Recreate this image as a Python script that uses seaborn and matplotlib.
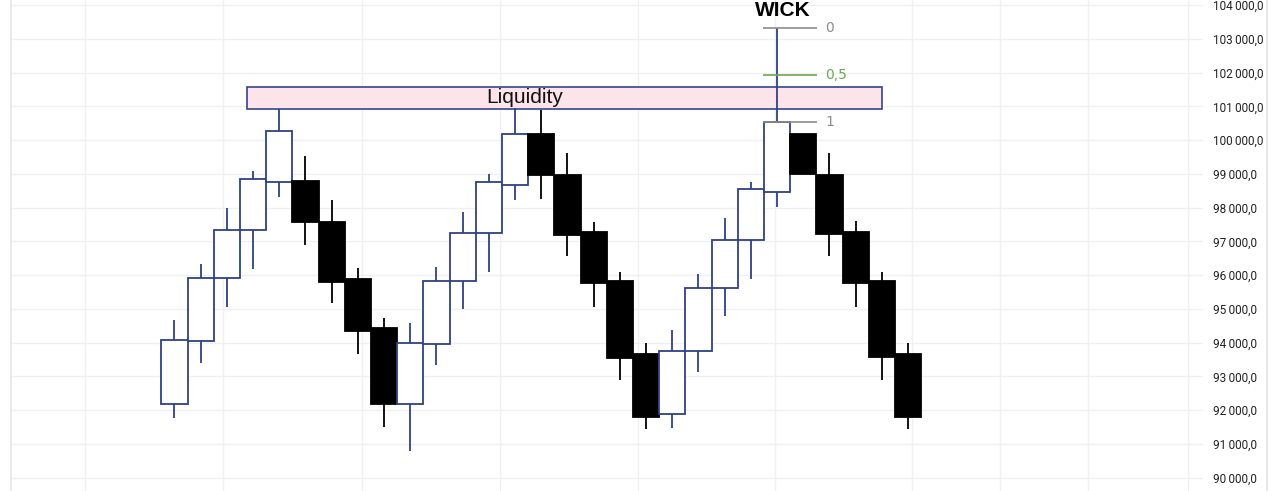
import numpy as np
import pandas as pd
import seaborn as sns
import matplotlib
matplotlib.use("Agg")
import matplotlib.pyplot as plt
from matplotlib.patches import Rectangle
from matplotlib.ticker import FuncFormatter

# %% data
opens = [92180, 94050, 95920, 97340, 98760, 98790, 97590, 95890, 94440, 92180,
         93960, 95830, 97250, 98670, 100180, 98970, 97280, 95830, 93670, 91890,
         93750, 95620, 97040, 98470, 100180, 98970, 97280, 95830, 93670]
closes = [94080, 95910, 97340, 98850, 100270, 97590, 95810, 94360, 92180, 93990,
          95830, 97250, 98760, 100180, 98970, 97190, 95770, 93550, 91800, 93750,
          95620, 97040, 98550, 100540, 99000, 97220, 95770, 93580, 91800]
highs = [94670, 96330, 97990, 99090, 100920, 99540, 98230, 96210, 94730, 94580,
         96240, 97870, 99000, 100950, 100900, 99620, 97580, 96100, 93990, 94380,
         96040, 97700, 98760, 103330, 100180, 99620, 97600, 96100, 93990]
lows = [91770, 93410, 95070, 96180, 98320, 96900, 95180, 93670, 91500, 90790,
        93340, 95000, 96100, 98230, 98260, 96570, 95060, 92900, 91440, 91470,
        93130, 94790, 95890, 98020, 99000, 96570, 95060, 92900, 91440]

liquidity_low, liquidity_high = 100925, 101585
fib_levels = [0, 0.5, 1]
fib_labels = ["0", "0,5", "1"]
fib_colors = ["#8c8c8c", "#6aa84f", "#8c8c8c"]
wick_idx = 23  # candle with the long upper wick

df = pd.DataFrame(dict(open=opens, close=closes, high=highs, low=lows))
df["i"] = np.arange(len(df))
df["up"] = df.close >= df.open

# %% figure
sns.set_theme(style="white")
plt.rcParams["font.family"] = ["DejaVu Sans"]

fig = plt.figure(figsize=(12.79, 4.91), dpi=100)
ax = fig.add_axes([11 / 1279, 0, (1203 - 11) / 1279, 1])

blue = "#2f4185"
for _, c in df.iterrows():
    col = blue if c.up else "black"
    ax.vlines(c.i, c.low, c.high, color=col, lw=1.3, zorder=2)
    bottom = min(c.open, c.close)
    ax.add_patch(Rectangle((c.i - 0.5, bottom), 1.0, abs(c.close - c.open),
                           facecolor="white" if c.up else "black",
                           edgecolor=col, lw=1.3, zorder=3))

# liquidity zone
ax.add_patch(Rectangle((2.76, liquidity_low), 27.0 - 2.76, liquidity_high - liquidity_low,
                       facecolor="#fde3ea", edgecolor="#34468a", lw=1.2, zorder=1))
ax.text(13.37, 101110, "Liquidity", family=["Liberation Sans"], fontsize=15,
        ha="center", va="baseline", color="#111111", zorder=4)

# fib on the wick
top = df.high[wick_idx]
bot = df.close[wick_idx]
for lvl, lab, col in zip(fib_levels, fib_labels, fib_colors):
    y = top - lvl * (top - bot)
    ax.hlines(y, wick_idx - 0.55, wick_idx + 1.53, color=col, lw=1.2, zorder=4)
    ax.text(wick_idx + 1.83, y, lab, color=col, fontsize=10, ha="left", va="center")

ax.text(wick_idx + 0.22, 103680, "WICK", family=["Liberation Sans"], fontsize=15,
        fontweight="bold", ha="center", va="baseline", color="black")

# axes styling
ax.set_xlim(-6.24, 39.26)
ax.set_ylim(89606, 104154)
ax.set_yticks(np.arange(90000, 104001, 1000))
ax.yaxis.tick_right()
ax.yaxis.set_major_formatter(FuncFormatter(
    lambda v, p: f"{v:,.1f}".replace(",", "\u202f").replace(".", ",")))
ax.tick_params(axis="y", length=0, pad=7, labelsize=8.5, labelcolor="#222222")
for lbl in ax.get_yticklabels():
    lbl.set_fontfamily(["Roboto", "DejaVu Sans"])
ax.set_xticks([-3.42, 1.85, 7.16, 12.42, 17.69, 22.92, 28.15, 31.51, 34.87, 38.68])
ax.tick_params(axis="x", length=0, labelbottom=False)
ax.grid(True, color="#f0f0f3", lw=1)
ax.set_axisbelow(True)
for s in ["top", "bottom", "right"]:
    ax.spines[s].set_visible(False)
ax.spines["left"].set_color("#e8e8ec")

fig.add_artist(plt.Line2D([1267 / 1279] * 2, [0, 1], color="#e8e8ec", lw=1.5))

fig.savefig("out.png", dpi=100)
